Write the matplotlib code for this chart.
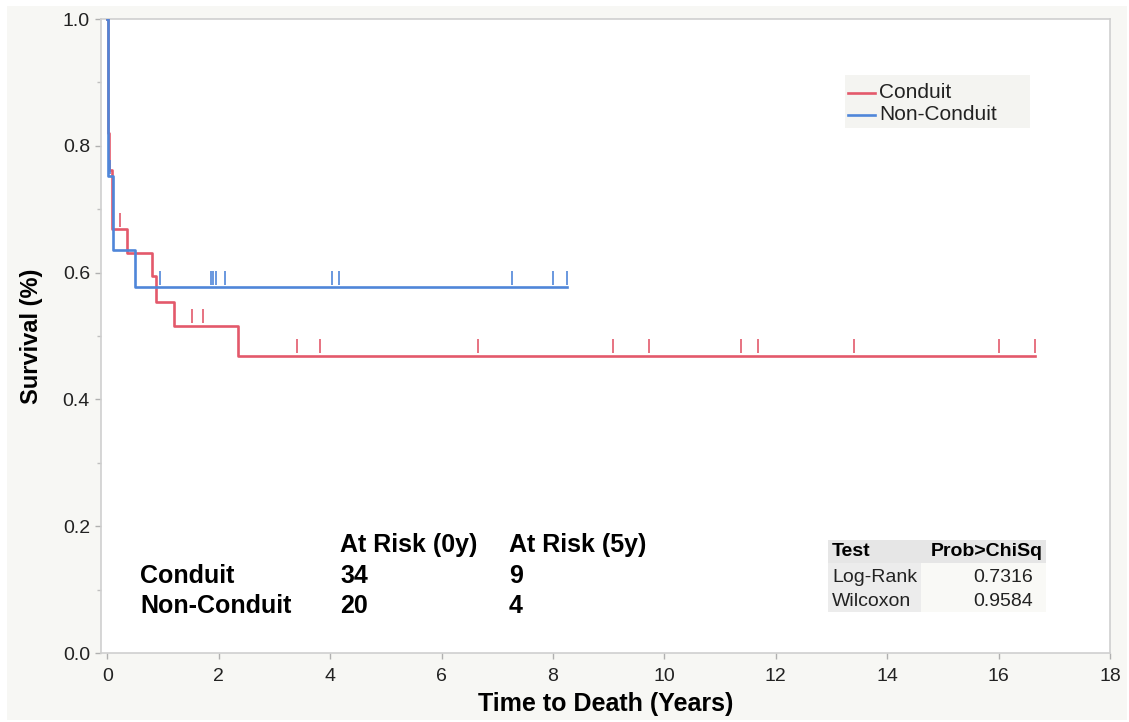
import matplotlib
matplotlib.use('Agg')
import matplotlib.pyplot as plt
import numpy as np
from matplotlib.patches import Rectangle
from matplotlib.lines import Line2D

plt.rcParams['font.family'] = ['Liberation Sans', 'DejaVu Sans']

# Kaplan-Meier step data
red_times = [0, 0.01, 0.03, 0.09, 0.35, 0.80, 0.87, 1.20, 2.35, 16.66]
red_surv = [1.0, 0.820, 0.762, 0.668, 0.631, 0.594, 0.553, 0.516, 0.469, 0.469]
red_censor = [0.11, 0.22, 1.52, 1.71, 3.40, 3.81, 6.66, 9.08, 9.73, 11.37,
              11.69, 13.41, 16.00, 16.66]

blue_times = [0, 0.01, 0.11, 0.50, 8.25]
blue_surv = [1.0, 0.752, 0.636, 0.577, 0.577]
blue_censor = [0.04, 0.95, 1.87, 1.90, 1.95, 2.11, 4.04, 4.16, 7.26, 8.00, 8.25]

groups = ['Conduit', 'Non-Conduit']
at_risk_0y = [34, 20]
at_risk_5y = [9, 4]

tests = ['Log-Rank', 'Wilcoxon']
p_values = [0.7316, 0.9584]

RED = '#e3596b'
BLUE = '#4f86d9'

W, H = 1129, 722


def fx(px):
    return px / W


def fy(py):
    return 1 - py / H


def surv_at(times, surv, t):
    idx = np.searchsorted(times, t, side='right') - 1
    return np.asarray(surv)[idx]


fig = plt.figure(figsize=(W / 100, H / 100), dpi=100, facecolor='white')
# light gray panel behind everything
fig.patches.append(Rectangle((fx(7), fy(720)), fx(1127) - fx(7), fy(6) - fy(720),
                             transform=fig.transFigure, facecolor='#f7f7f4',
                             edgecolor='none', zorder=-10))

ax = fig.add_axes([fx(101), fy(653), fx(1110) - fx(101), fy(19) - fy(653)])
ax.set_facecolor('white')

for times, surv, cens, col in [(red_times, red_surv, red_censor, RED),
                               (blue_times, blue_surv, blue_censor, BLUE)]:
    ax.step(times, surv, where='post', color=col, lw=1.9, zorder=3)
    lev = np.array([surv_at(times, surv, t) for t in cens])
    ax.vlines(cens, lev + 0.004, lev + 0.026, color=col, lw=1.4, alpha=0.85, zorder=3)

ax.set_xlim(-0.113, 18)
ax.set_ylim(0, 1)
ax.set_xticks(np.arange(0, 19, 2))
ax.set_yticks(np.arange(0, 1.01, 0.2))
ax.set_yticks(np.arange(0.1, 1.0, 0.2), minor=True)
ax.set_yticklabels([f"{v:.1f}" for v in np.arange(0, 1.01, 0.2)])

for s in ax.spines.values():
    s.set_color('#cfcfcf')
    s.set_linewidth(1.2)
ax.tick_params(axis='both', which='major', length=4.5, width=1, color='#b0b0b0',
               labelsize=14, labelcolor='#222222')
ax.tick_params(axis='x', pad=6)
ax.tick_params(axis='y', pad=3.5)
ax.tick_params(axis='y', which='minor', length=3, width=1, color='#c0c0c0')

ax.set_xlabel('Time to Death (Years)', fontsize=18, fontweight='bold', labelpad=5)
ax.set_ylabel('Survival (%)', fontsize=17, fontweight='bold', labelpad=14)

# legend box
fig.patches.append(Rectangle((fx(845), fy(128)), fx(1030) - fx(845), fy(75) - fy(128),
                             transform=fig.transFigure, facecolor='#f4f4f1',
                             edgecolor='none', zorder=5))
for i, (g, col) in enumerate(zip(groups, [RED, BLUE])):
    yy = fy(93 + i * 22)
    fig.lines.append(Line2D([fx(848), fx(875)], [yy, yy], transform=fig.transFigure,
                            color=col, lw=1.9, zorder=6))
    fig.text(fx(879), yy, g, fontsize=15, va='center', ha='left', color='#222222',
             zorder=6)

# at-risk table
fig.text(fx(340), fy(545), 'At Risk (0y)', fontsize=18, fontweight='bold', va='center')
fig.text(fx(509), fy(545), 'At Risk (5y)', fontsize=18, fontweight='bold', va='center')
for i, g in enumerate(groups):
    yy = fy(576 + i * 30)
    fig.text(fx(140), yy, g, fontsize=18, fontweight='bold', va='center')
    fig.text(fx(340), yy, str(at_risk_0y[i]), fontsize=18, fontweight='bold', va='center')
    fig.text(fx(509), yy, str(at_risk_5y[i]), fontsize=18, fontweight='bold', va='center')

# test statistics table
x0, x1, x2 = 828, 921, 1046
rows_y = [540, 563, 588, 612]
cell_colors = [['#e6e6e6', '#e6e6e6'], ['#ececec', '#f9f9f6'], ['#ececec', '#f9f9f6']]
for r in range(3):
    for c, (a, b) in enumerate([(x0, x1), (x1, x2)]):
        fig.patches.append(Rectangle((fx(a), fy(rows_y[r + 1])), fx(b) - fx(a),
                                     fy(rows_y[r]) - fy(rows_y[r + 1]),
                                     transform=fig.transFigure,
                                     facecolor=cell_colors[r][c], edgecolor='none',
                                     zorder=5))
fig.text(fx(832), fy(552), 'Test', fontsize=14, fontweight='bold', va='center', zorder=6)
fig.text(fx(931), fy(552), 'Prob>ChiSq', fontsize=14, fontweight='bold', va='center',
         zorder=6)
for i, (t, p) in enumerate(zip(tests, p_values)):
    yy = fy(578 + i * 23)
    fig.text(fx(832), yy, t, fontsize=14, va='center', color='#222222', zorder=6)
    fig.text(fx(1033), yy, f"{p:.4f}", fontsize=14, va='center', ha='right',
             color='#222222', zorder=6)

fig.savefig('out.png', dpi=100)
